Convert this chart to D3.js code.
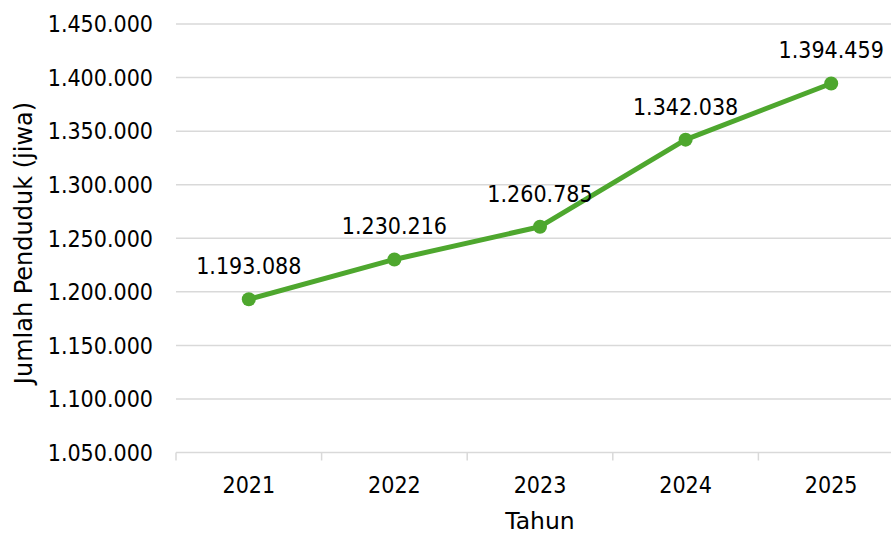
<!DOCTYPE html>
<html>
<head>
<meta charset="utf-8">
<script src="https://cdn.jsdelivr.net/npm/d3@7"></script>
<style>
  body { margin: 0; background: #fff; }
  text { font-family: "DejaVu Sans Condensed", "DejaVu Sans", sans-serif; fill: #000; }
  .title { font-family: "DejaVu Sans", sans-serif; }
</style>
</head>
<body>
<div id="chart"></div>
<script>
// data
var years = ['2021', '2022', '2023', '2024', '2025']
var population = [1193088, 1230216, 1260785, 1342038, 1394459]
var yTicks = [1050000, 1100000, 1150000, 1200000, 1250000, 1300000, 1350000, 1400000, 1450000]

var width = 891
var height = 537
var plotLeft = 176, plotRight = 904, plotTop = 24, plotBottom = 452.5

var fmt = function (v) { return d3.format(',')(v).replace(/,/g, '.') }

var svg = d3.select('#chart').append('svg')
  .attr('width', width)
  .attr('height', height)

var x = d3.scaleBand().domain(years).range([plotLeft, plotRight])
var y = d3.scaleLinear().domain([1050000, 1450000]).range([plotBottom, plotTop])

// gridlines
svg.append('g').selectAll('line')
  .data(yTicks)
  .enter().append('line')
  .attr('x1', plotLeft).attr('x2', plotRight)
  .attr('y1', function (d) { return y(d) }).attr('y2', function (d) { return y(d) })
  .attr('stroke', '#d9d9d9').attr('stroke-width', 1.5)

// y labels
svg.append('g').selectAll('text')
  .data(yTicks)
  .enter().append('text')
  .attr('x', 153)
  .attr('y', function (d) { return y(d) })
  .attr('dy', '0.36em')
  .attr('text-anchor', 'end')
  .style('font-size', '23px')
  .text(fmt)

// x ticks between categories
var bounds = years.map(function (d) { return x(d) })
svg.append('g').selectAll('line')
  .data(bounds)
  .enter().append('line')
  .attr('x1', function (d) { return d }).attr('x2', function (d) { return d })
  .attr('y1', plotBottom).attr('y2', plotBottom + 8)
  .attr('stroke', '#d9d9d9').attr('stroke-width', 1.5)

svg.append('g').selectAll('text')
  .data(years)
  .enter().append('text')
  .attr('x', function (d) { return x(d) + x.bandwidth() / 2 })
  .attr('y', 493)
  .attr('text-anchor', 'middle')
  .style('font-size', '23px')
  .text(function (d) { return d })

// axis titles
svg.append('text')
  .attr('class', 'title')
  .attr('x', 540).attr('y', 529)
  .attr('text-anchor', 'middle')
  .style('font-size', '23.5px')
  .text('Tahun')

svg.append('text')
  .attr('class', 'title')
  .attr('transform', 'translate(32,243) rotate(-90)')
  .attr('text-anchor', 'middle')
  .style('font-size', '24px')
  .text('Jumlah Penduduk (jiwa)')

// line + points
var cx = function (d, i) { return x(years[i]) + x.bandwidth() / 2 }
var line = d3.line()
  .x(cx)
  .y(function (d) { return y(d) })

svg.append('path')
  .datum(population)
  .attr('d', line)
  .attr('fill', 'none')
  .attr('stroke', '#4ea72e')
  .attr('stroke-width', 5)
  .attr('stroke-linejoin', 'round')

svg.append('g').selectAll('circle')
  .data(population)
  .enter().append('circle')
  .attr('cx', cx)
  .attr('cy', function (d) { return y(d) })
  .attr('r', 7)
  .attr('fill', '#4ea72e')

svg.append('g').selectAll('text')
  .data(population)
  .enter().append('text')
  .attr('x', cx)
  .attr('y', function (d) { return y(d) - 25 })
  .attr('text-anchor', 'middle')
  .style('font-size', '23px')
  .text(fmt)
</script>
</body>
</html>
